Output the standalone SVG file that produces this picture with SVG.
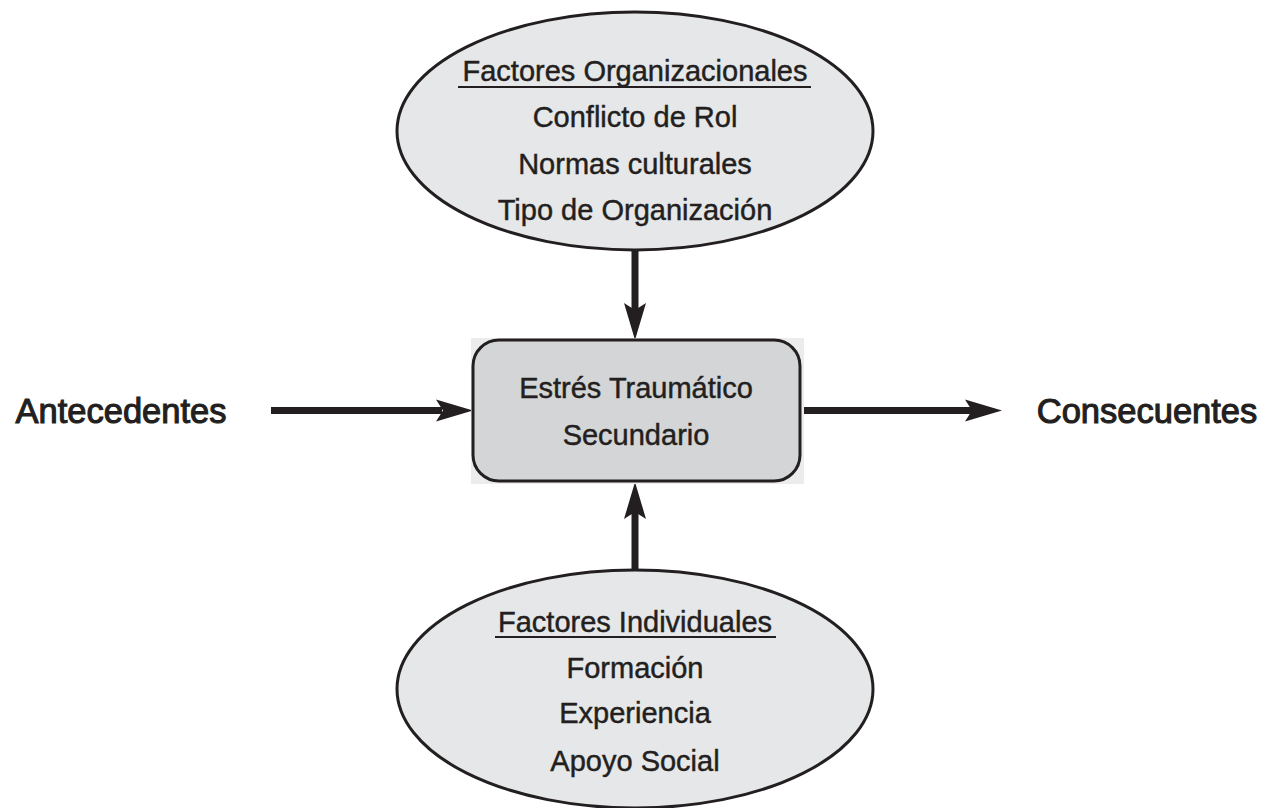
<svg xmlns="http://www.w3.org/2000/svg" width="1269" height="808" viewBox="0 0 1269 808">
  <style>
    .txt { font-family: "Liberation Sans", Arial, sans-serif; fill: #231f20; text-anchor: middle; stroke: #231f20; }
    .item { font-size: 29px; stroke-width: 0.45; }
    .side { font-size: 34.5px; stroke-width: 1.1; }
    .oval { fill: #e6e7e8; stroke: #231f20; stroke-width: 3; }
    .core { fill: #d4d5d7; stroke: #231f20; stroke-width: 3; }
    .shaft { stroke: #231f20; stroke-width: 7; fill: none; }
    .head { fill: #231f20; }
    .rule { stroke: #231f20; stroke-width: 2; }
  </style>
  <rect width="1269" height="808" fill="#ffffff"/>

  <!-- connectors -->
  <g id="connectors">
    <!-- Antecedentes -> core -->
    <line class="shaft" x1="271" y1="410.5" x2="442" y2="410.5"/>
    <path class="head" d="M473,410.5 L436,399.5 L443,410.5 L436,421.5 Z"/>
    <!-- core -> Consecuentes -->
    <line class="shaft" x1="800" y1="410.5" x2="972" y2="410.5"/>
    <path class="head" d="M1002,410.5 L965,399.5 L972,410.5 L965,421.5 Z"/>
    <!-- organizational factors -> core -->
    <line class="shaft" x1="635" y1="250" x2="635" y2="310"/>
    <path class="head" d="M635,340 L624,303 L635,310 L646,303 Z"/>
    <!-- individual factors -> core -->
    <line class="shaft" x1="635" y1="571" x2="635" y2="512"/>
    <path class="head" d="M635,482 L624,519 L635,512 L646,519 Z"/>
  </g>

  <!-- organizational factors -->
  <g id="node-organizacionales">
    <ellipse class="oval" cx="635" cy="131" rx="238" ry="119"/>
    <text class="txt item" x="635" y="81">Factores Organizacionales</text>
    <line class="rule" x1="458" y1="87" x2="811" y2="87"/>
    <text class="txt item" x="635" y="127">Conflicto de Rol</text>
    <text class="txt item" x="635" y="174">Normas culturales</text>
    <text class="txt item" x="635" y="220">Tipo de Organización</text>
  </g>

  <!-- core concept -->
  <g id="node-estres">
    <rect x="471" y="338" width="333" height="146" fill="#ececec"/>
    <rect class="core" x="473" y="340" width="327" height="141" rx="26" ry="26"/>
    <text class="txt item" x="636" y="398">Estrés Traumático</text>
    <text class="txt item" x="636" y="445">Secundario</text>
  </g>

  <!-- individual factors -->
  <g id="node-individuales">
    <ellipse class="oval" cx="635" cy="689" rx="238" ry="119"/>
    <text class="txt item" x="635" y="632">Factores Individuales</text>
    <line class="rule" x1="495" y1="637" x2="776" y2="637"/>
    <text class="txt item" x="635" y="678">Formación</text>
    <text class="txt item" x="635" y="723">Experiencia</text>
    <text class="txt item" x="635" y="771">Apoyo Social</text>
  </g>

  <!-- side labels -->
  <g id="node-antecedentes">
    <text class="txt side" x="121" y="423">Antecedentes</text>
  </g>
  <g id="node-consecuentes">
    <text class="txt side" x="1147" y="423">Consecuentes</text>
  </g>
</svg>
